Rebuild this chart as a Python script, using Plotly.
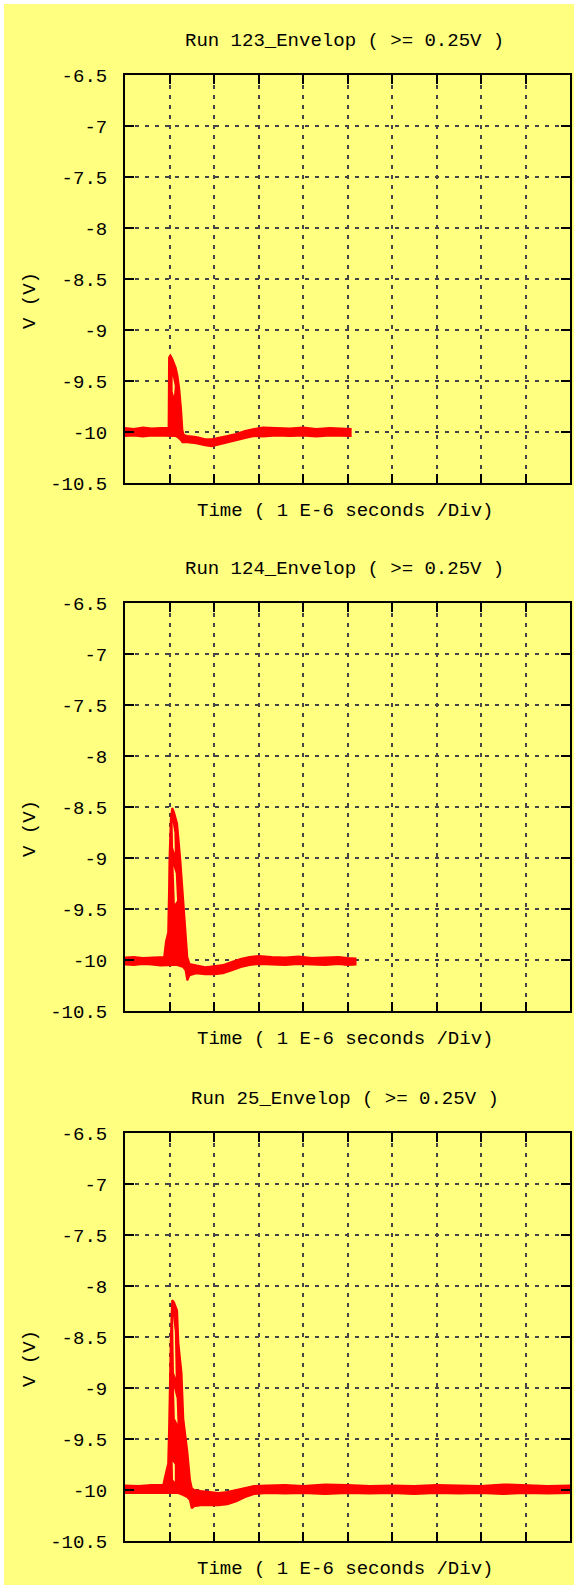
import plotly.graph_objects as go

# ---------------- data (x in divisions, 1 div = 1E-6 s) ----------------
titles = ["Run 123_Envelop ( >= 0.25V )",
          "Run 124_Envelop ( >= 0.25V )",
          "Run 25_Envelop ( >= 0.25V )"]
x_title = "Time ( 1 E-6 seconds /Div)"
y_title = "V (V)"
ytick_vals = [-10.5, -10, -9.5, -9, -8.5, -8, -7.5, -7, -6.5]
ytick_text = ["-10.5", "-10", "-9.5", "-9", "-8.5", "-8", "-7.5", "-7", "-6.5"]

# Run 123 envelope (upper / lower)
x1 = [0, 0.2, 0.4, 0.6, 0.8, 0.98, 0.99, 1.02, 1.06, 1.10, 1.14, 1.18, 1.22, 1.26, 1.29,
      1.32, 1.4, 1.6, 1.8, 1.95, 2.1, 2.3, 2.5, 2.7, 2.9, 3.1, 3.4, 3.7, 4.0, 4.3, 4.6, 4.9, 5.07]
u1 = [-9.96, -9.97, -9.955, -9.965, -9.96, -9.96, -9.27, -9.25, -9.28, -9.33, -9.37, -9.45,
      -9.58, -9.78, -9.98, -10.03, -10.04, -10.05, -10.07, -10.07, -10.06, -10.04, -10.02,
      -9.99, -9.97, -9.955, -9.96, -9.965, -9.955, -9.97, -9.96, -9.965, -9.97]
l1 = [-10.04, -10.035, -10.045, -10.035, -10.04, -10.04, -10.04, -10.04, -10.04, -10.04,
      -10.04, -10.05, -10.06, -10.08, -10.1, -10.1, -10.1, -10.11, -10.13, -10.14, -10.12,
      -10.1, -10.08, -10.06, -10.04, -10.045, -10.035, -10.04, -10.035, -10.045, -10.035,
      -10.04, -10.04]
# gaps between the overlapping traces inside the spike
holes1 = [([1.07, 1.12, 1.10, 1.07], [-9.45, -9.55, -9.65, -9.6])]

# Run 124 envelope
x2 = [0, 0.2, 0.4, 0.6, 0.8, 0.88, 0.92, 0.97, 0.99, 1.0, 1.03, 1.06, 1.1, 1.17, 1.24,
      1.31, 1.36, 1.40, 1.45, 1.6, 1.8, 2.0, 2.2, 2.4, 2.6, 2.8, 3.0, 3.3, 3.6, 3.9, 4.2,
      4.5, 4.8, 5.0, 5.18]
u2 = [-9.975, -9.97, -9.98, -9.975, -9.965, -9.97, -9.82, -9.73, -9.3, -9.0, -8.62, -8.51,
      -8.55, -8.66, -9.0, -9.44, -9.75, -9.97, -10.04, -10.05, -10.07, -10.06, -10.05,
      -10.02, -9.99, -9.97, -9.96, -9.97, -9.975, -9.965, -9.98, -9.975, -9.97, -9.98, -9.985]
l2 = [-10.045, -10.05, -10.04, -10.045, -10.055, -10.05, -10.05, -10.05, -10.05, -10.05,
      -10.05, -10.05, -10.05, -10.05, -10.06, -10.07, -10.1, -10.2, -10.15, -10.13, -10.14,
      -10.14, -10.13, -10.1, -10.07, -10.05, -10.04, -10.045, -10.05, -10.04, -10.045,
      -10.05, -10.04, -10.05, -10.045]
holes2 = [([1.07, 1.11, 1.12, 1.08], [-8.65, -8.75, -8.95, -8.9]),
          ([1.09, 1.14, 1.17, 1.12], [-9.08, -9.15, -9.42, -9.45])]

# Run 25 envelope
x3 = [0, 0.3, 0.6, 0.86, 0.9, 0.97, 0.99, 1.0, 1.03, 1.06, 1.10, 1.17, 1.20, 1.27, 1.31,
      1.40, 1.46, 1.5, 1.55, 1.7, 1.9, 2.1, 2.3, 2.5, 2.7, 2.9, 3.2, 3.6, 4.0, 4.5, 5.0,
      5.5, 6.0, 6.5, 7.0, 7.5, 8.0, 8.5, 9.0, 9.5, 10]
u3 = [-9.955, -9.96, -9.95, -9.95, -9.87, -9.74, -9.4, -9.02, -8.5, -8.14, -8.16, -8.24,
      -8.56, -8.85, -9.3, -9.62, -9.9, -9.98, -10.0, -10.01, -10.02, -10.03, -10.02, -10.0,
      -9.98, -9.96, -9.955, -9.95, -9.96, -9.945, -9.95, -9.96, -9.955, -9.96, -9.95,
      -9.955, -9.96, -9.945, -9.95, -9.96, -9.955]
l3 = [-10.03, -10.035, -10.03, -10.03, -10.03, -10.03, -10.03, -10.03, -10.03, -10.03,
      -10.03, -10.03, -10.03, -10.04, -10.05, -10.07, -10.1, -10.18, -10.16, -10.15, -10.15,
      -10.15, -10.14, -10.11, -10.07, -10.04, -10.03, -10.035, -10.03, -10.04, -10.03,
      -10.035, -10.03, -10.04, -10.03, -10.035, -10.03, -10.04, -10.03, -10.035, -10.03]
holes3 = [([1.08, 1.12, 1.14, 1.10], [-8.3, -8.45, -8.9, -8.85]),
          ([1.10, 1.16, 1.18, 1.12], [-9.0, -9.1, -9.35, -9.3]),
          ([1.07, 1.12, 1.12, 1.08], [-9.72, -9.75, -9.92, -9.9])]

runs = [(x1, u1, l1, holes1), (x2, u2, l2, holes2), (x3, u3, l3, holes3)]

# ---------------- layout geometry (pixels) ----------------
W, H = 574, 1585
plot_left, plot_right = 125, 570
plot_tops = [75, 603, 1133]
plot_h = 408
YELLOW = "#ffff80"
FONT = dict(family="Liberation Mono, DejaVu Sans Mono, monospace", size=19, color="black")

fig = go.Figure()
annotations = []
for i, (xs, us, ls, holes) in enumerate(runs):
    n = "" if i == 0 else str(i + 1)
    xa, ya = "x" + n, "y" + n
    fig.add_trace(go.Scatter(
        x=list(xs) + list(xs)[::-1], y=list(us) + list(ls)[::-1],
        xaxis=xa, yaxis=ya, mode="lines", fill="toself",
        fillcolor="#ff0000", line=dict(color="#ff0000", width=2),
        hoverinfo="skip", showlegend=False))
    for hx, hy in holes:
        fig.add_trace(go.Scatter(
            x=list(hx) + [hx[0]], y=list(hy) + [hy[0]], xaxis=xa, yaxis=ya,
            mode="lines", fill="toself", fillcolor=YELLOW, line=dict(width=0),
            hoverinfo="skip", showlegend=False))
    top = plot_tops[i]
    bot = top + plot_h
    y0, y1 = 1 - bot / H, 1 - top / H
    axkw = dict(showline=True, linecolor="black", linewidth=2, mirror="ticks",
                ticks="inside", ticklen=9, tickwidth=1.5, tickcolor="black",
                showgrid=True, gridcolor="#444444", gridwidth=1.6, griddash="4px,6px",
                zeroline=False)
    fig.layout["xaxis" + n] = dict(domain=[plot_left / W, plot_right / W], range=[0, 10],
                                   dtick=1, tick0=0, showticklabels=False, anchor=ya, **axkw)
    fig.layout["yaxis" + n] = dict(domain=[y0, y1], range=[-10.5, -6.5],
                                   tickvals=ytick_vals, ticktext=ytick_text,
                                   tickfont=FONT, ticklabelstandoff=12, anchor=xa, **axkw)
    cx = (plot_left + plot_right) / 2 / W - 0.005
    annotations.append(dict(text=titles[i], x=cx, y=1 - (top - 34) / H, xref="paper",
                            yref="paper", showarrow=False, font=FONT,
                            xanchor="center", yanchor="middle"))
    annotations.append(dict(text=x_title, x=cx, y=1 - (bot + 28) / H, xref="paper",
                            yref="paper", showarrow=False, font=FONT,
                            xanchor="center", yanchor="middle"))
    annotations.append(dict(text=y_title, x=30 / W, y=1 - ((top + bot) / 2 + 22) / H,
                            xref="paper", yref="paper", showarrow=False, font=FONT,
                            textangle=-90, xanchor="center", yanchor="middle"))

fig.update_layout(
    width=W, height=H, margin=dict(l=0, r=0, t=0, b=0, autoexpand=False),
    paper_bgcolor="white", plot_bgcolor=YELLOW,
    annotations=annotations,
    shapes=[dict(type="rect", xref="paper", yref="paper", x0=4 / W, x1=1, y0=0,
                 y1=1 - 4 / H, fillcolor=YELLOW, line=dict(width=0), layer="below")],
)

fig.write_html("out.html")
